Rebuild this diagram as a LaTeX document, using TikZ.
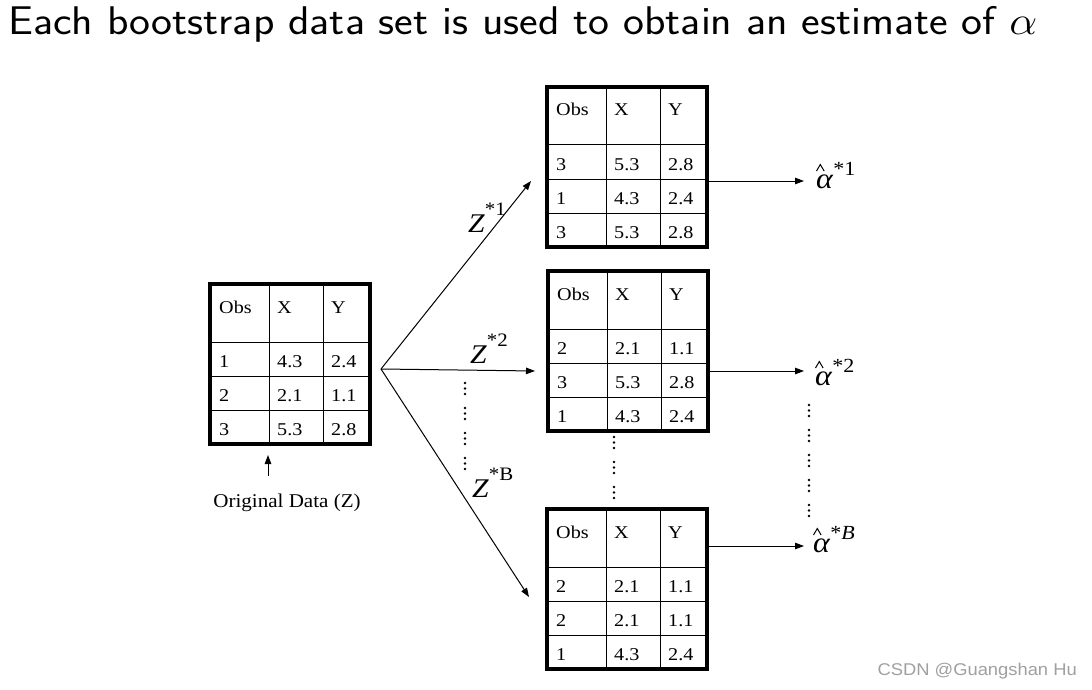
\RequirePackage{fix-cm}
\documentclass[tikz,border=0pt]{standalone}
\usepackage{graphicx}
\usepackage{fontspec}
\setmainfont{Liberation Serif}
\newfontfamily\wmfont{Liberation Sans}
\usetikzlibrary{arrows.meta}
\definecolor{wmgray}{HTML}{A0A0A0}
\newcommand\hs[1]{\scalebox{1.1}[1]{#1}}
\tikzset{
  tframe/.style={draw, line width=4.6pt, minimum width=160pt, minimum height=160pt, inner sep=0pt},
  gridline/.style={line width=1pt},
  cell/.style={anchor=base west, inner sep=0pt, font=\fontsize{18}{20}\selectfont},
  arr/.style={line width=1pt, -{Triangle[length=9pt,width=6.5pt]}},
  zlab/.style={anchor=base west, inner sep=0pt, font=\fontsize{27}{30}\selectfont},
  alab/.style={anchor=base west, inner sep=0pt, font=\fontsize{29}{32}\selectfont},
  hatline/.style={line width=1pt, line join=miter},
}
\newcommand\ctext[1]{\scalebox{1.12}[1]{#1}}
\newcommand\bsTable[3]{%
  \begin{scope}[shift={#2}]
    \draw[gridline] (0,58)--(160,58) (0,92)--(160,92) (0,126)--(160,126)
                    (59,0)--(59,160) (113,0)--(113,160);
    \node[tframe] (#1) at (80,80) {};
    \node[cell] at (9,29) {\ctext{Obs}};
    \node[cell] at (67,29) {\ctext{X}};
    \node[cell] at (121,29) {\ctext{Y}};
    \foreach \a/\b/\c [count=\i] in {#3} {
      \node[cell] at (9,34*\i+49) {\ctext{\a}};
      \node[cell] at (67,34*\i+49) {\ctext{\b}};
      \node[cell] at (121,34*\i+49) {\ctext{\c}};
    }
  \end{scope}}
\newcommand\zsup[1]{\hs{\textit{Z}\raisebox{0.6em}{\fontsize{19}{20}\selectfont *#1}}}
\newcommand\ahat[1]{\hs{\textit{α}\raisebox{0.42em}{\fontsize{20}{20}\selectfont *#1}}}
\begin{document}
\begin{tikzpicture}[x=1pt,y=-1pt]
  \fill[white] (0,0) rectangle (1092,690);
  \useasboundingbox (0,0) rectangle (1092,690);

  % title
  \node[anchor=base west, inner sep=0pt, font=\fontsize{40}{44}\sffamily\selectfont] (title) at (8,35)
    {\scalebox{1.11}[1]{Each bootstrap data set is used to obtain an estimate of $\alpha$}};

  % tables
  \bsTable{t0}{(210,284)}{1/4.3/2.4, 2/2.1/1.1, 3/5.3/2.8}
  \bsTable{t1}{(547,87)}{3/5.3/2.8, 1/4.3/2.4, 3/5.3/2.8}
  \bsTable{t2}{(548,271)}{2/2.1/1.1, 3/5.3/2.8, 1/4.3/2.4}
  \bsTable{t3}{(547,509)}{2/2.1/1.1, 2/2.1/1.1, 1/4.3/2.4}

  % original data label
  \node[anchor=base, inner sep=0pt, font=\fontsize{19.5}{22}\selectfont] (orig) at (287,507) {\scalebox{1.08}[1]{Original Data (Z)}};
  \coordinate (oa) at (268,476);
  \coordinate (ob) at (268,455);
  \draw[arr] (oa) -- (ob);

  % fork arrows
  \coordinate (fork) at (381,369);
  \coordinate (e1) at (531,181);
  \coordinate (e2) at (535,371);
  \coordinate (e3) at (529,597);
  \draw[arr] (fork) -- (e1);
  \draw[arr] (fork) -- (e2);
  \draw[arr] (fork) -- (e3);

  \node[zlab] (z1) at (468,232) {\zsup{1}};
  \node[zlab] (z2) at (470,363) {\zsup{2}};
  \node[zlab] (zB) at (472,497) {\zsup{B}};

  % estimates
  \node[alab] (a1) at (816,188) {\ahat{1}};
  \node[alab] (a2) at (815,385) {\ahat{2}};
  \node[alab] (aB) at (813,552) {\ahat{\textit{B}}};
  \foreach \a in {a1,a2,aB}
    \draw[hatline] (\a.base west) ++(0.5,-17) -- ++(3.8,-6.5) -- ++(3.8,6.5);
  \draw[arr, shorten >=12pt] ([yshift=-14pt]t1.east) coordinate (s1) -- (s1 -| a1.west);
  \draw[arr, shorten >=11pt] ([yshift=-20pt]t2.east) coordinate (s2) -- (s2 -| a2.west);
  \draw[arr, shorten >=9pt] ([yshift=43pt]t3.east) coordinate (s3) -- (s3 -| aB.west);

  % vertical dots
  \foreach \g in {0,...,3} \foreach \d in {0,1,2}
    \fill (465,383+25*\g+5.5*\d) circle (1.4pt);
  \foreach \g in {0,...,2} \foreach \d in {0,1,2}
    \fill (614,437+25*\g+5.5*\d) circle (1.4pt);
  \foreach \g in {0,...,4} \foreach \d in {0,1,2}
    \fill (809,405+25*\g+5.5*\d) circle (1.4pt);

  % watermark
  \node[anchor=base east, inner sep=0pt, text=wmgray, font=\wmfont\fontsize{17}{18}\selectfont] (wm) at (1077,675) {\scalebox{1.08}[1]{CSDN @Guangshan Hu}};
\end{tikzpicture}
\end{document}
